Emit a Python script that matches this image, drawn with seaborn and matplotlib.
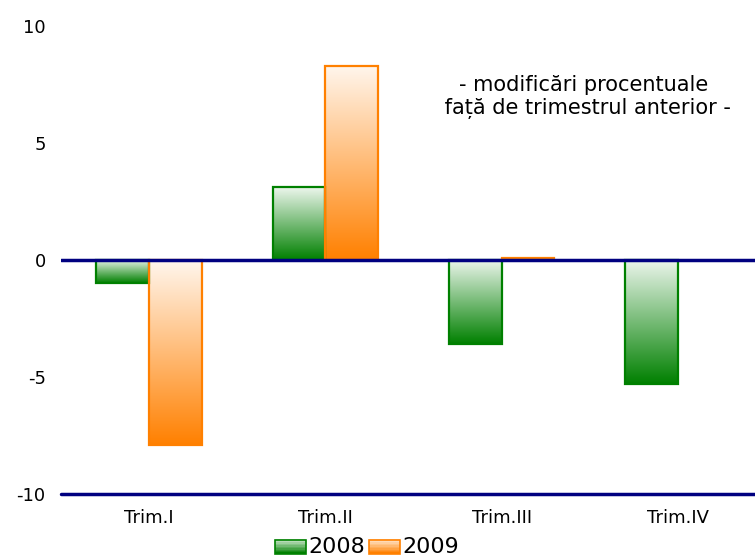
import numpy as np
import pandas as pd
import matplotlib
matplotlib.use("Agg")
import matplotlib.pyplot as plt
from matplotlib.colors import LinearSegmentedColormap, to_rgb
from matplotlib.patches import Patch, Rectangle
from matplotlib.legend_handler import HandlerBase
import seaborn as sns

# data
trimestre = ["Trim.I", "Trim.II", "Trim.III", "Trim.IV"]
val_2008 = [-1.0, 3.1, -3.6, -5.3]
val_2009 = [-7.9, 8.3, 0.1, np.nan]
ani = ["2008", "2009"]
culori = {"2008": "#008000", "2009": "#ff8000"}

df = pd.DataFrame({
    "trim": trimestre * 2,
    "an": ["2008"] * 4 + ["2009"] * 4,
    "val": val_2008 + val_2009,
})

sns.set_style("white")
plt.rcParams["font.family"] = ["DejaVu Sans"]
plt.rcParams["text.color"] = "black"


def light_top(col, k=0.93):
    c = np.array(to_rgb(col))
    return c + (1 - c) * k


class GradHandler(HandlerBase):
    # legend box with the same top-light gradient as the bars
    def create_artists(self, legend, orig, xd, yd, w, h, fontsize, trans):
        col = orig.get_edgecolor()
        cmap = LinearSegmentedColormap.from_list("lg", [light_top(col, 0.8), col])
        n = 10
        arts = []
        for i in range(n):
            r = Rectangle((xd, yd + h * i / n), w, h / n + 0.3,
                          facecolor=cmap(1 - i / (n - 1)), edgecolor="none", transform=trans)
            arts.append(r)
        arts.append(Rectangle((xd, yd), w, h, facecolor="none", edgecolor=col,
                              lw=1.2, transform=trans))
        return arts


fig = plt.figure(figsize=(7.55, 5.58), dpi=100)
ax = fig.add_axes([61 / 755, 64 / 558, 705 / 755, 468 / 558])

sns.barplot(data=df, x="trim", y="val", hue="an", order=trimestre, hue_order=ani,
            palette=culori, width=0.6, gap=0, legend=False, ax=ax)

# gradient fill: light at top, full colour at bottom
for cont, an in zip(ax.containers, ani):
    cmap = LinearSegmentedColormap.from_list("g" + an, [light_top(culori[an]), culori[an]])
    for p in cont.patches:
        h = p.get_height()
        if np.isnan(h) or h == 0:
            continue
        x0, w = p.get_x(), p.get_width()
        y0 = p.get_y()
        lo, hi = min(y0, y0 + h), max(y0, y0 + h)
        grad = np.linspace(0, 1, 256).reshape(-1, 1)
        im = ax.imshow(grad, cmap=cmap, extent=[x0, x0 + w, lo, hi],
                       origin="upper", aspect="auto", zorder=2)
        im.set_clip_path(p)
        p.set_facecolor("none")
        p.set_edgecolor(culori[an])
        p.set_linewidth(1.6)
        p.set_zorder(3)

ax.set_xlim(-0.5, 3.5)
ax.set_ylim(-10, 10)
ax.set_yticks([-10, -5, 0, 5, 10])
ax.set_yticklabels(["-10", "-5", "0", "5", "10"])
ax.axhline(0, color="#000080", lw=2.5, zorder=5)
ax.axhline(-10, color="#000080", lw=2.5, zorder=5, clip_on=False)
for s in ax.spines.values():
    s.set_visible(False)
ax.tick_params(axis="both", length=0, labelsize=13, colors="black")
ax.tick_params(axis="y", pad=11)
ax.tick_params(axis="x", pad=11)
ax.set_xlabel("")
ax.set_ylabel("")

fig.text(584 / 755, 1 - 97 / 558,
         "- modificări procentuale\n față de trimestrul anterior -",
         ha="center", va="center", fontsize=15, linespacing=1.2, color="black")

handles = [Patch(facecolor="none", edgecolor=culori[a]) for a in ani]
fig.legend(handles, ani, loc="center", bbox_to_anchor=(367 / 755, 1 - 547 / 558),
           ncol=2, frameon=False, fontsize=16, handlelength=1.4, handleheight=0.6,
           handletextpad=0.1, columnspacing=0.2, borderaxespad=0,
           labelcolor="black", handler_map={Patch: GradHandler()})

fig.savefig("out.png", dpi=100)
